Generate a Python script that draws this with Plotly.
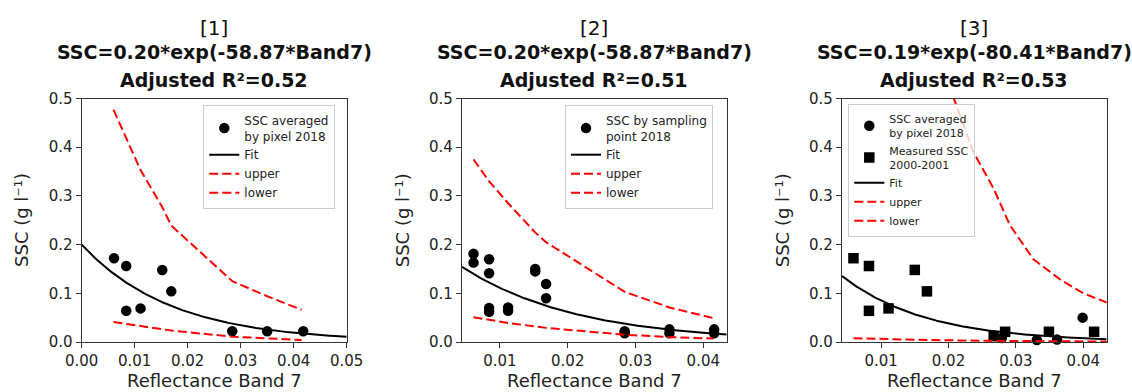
import numpy as np
import plotly.graph_objects as go

W, H = 1132, 392
FONT = "DejaVu Sans"
RED = "#ff0000"

# ---- fit coefficients (SSC = a * exp(b * Band7)) ----
fit_a = [0.20, 0.20, 0.19]
fit_b = [-58.87, -58.87, -80.41]
adj_r2 = ["0.52", "0.51", "0.53"]
panel_tags = ["[1]", "[2]", "[3]"]

# ---- panel 1: SSC averaged by pixel 2018 ----
p1_x = [0.0061, 0.0084, 0.0084, 0.0111, 0.0152, 0.0169, 0.0284, 0.0350, 0.0418]
p1_y = [0.172, 0.156, 0.064, 0.069, 0.148, 0.104, 0.022, 0.022, 0.022]
p1_band_x = [0.0060, 0.0084, 0.0111, 0.0152, 0.0169, 0.0284, 0.0350, 0.0415]
p1_upper = [0.477, 0.418, 0.353, 0.277, 0.239, 0.125, 0.094, 0.066]
p1_lower = [0.041, 0.037, 0.032, 0.026, 0.0235, 0.011, 0.007, 0.004]

# ---- panel 2: SSC by sampling point 2018 ----
p2_x = [0.0061, 0.0061, 0.0084, 0.0084, 0.0084, 0.0084, 0.0112, 0.0112, 0.0152,
        0.0152, 0.0168, 0.0168, 0.0284, 0.0284, 0.0350, 0.0350, 0.0416, 0.0416]
p2_y = [0.181, 0.163, 0.170, 0.141, 0.070, 0.062, 0.071, 0.064, 0.150,
        0.145, 0.119, 0.090, 0.022, 0.018, 0.026, 0.018, 0.026, 0.018]
p2_band_x = [0.0061, 0.0084, 0.0112, 0.0152, 0.0168, 0.0284, 0.0350, 0.0415]
p2_upper = [0.375, 0.330, 0.285, 0.225, 0.205, 0.103, 0.071, 0.049]
p2_lower = [0.051, 0.045, 0.039, 0.032, 0.029, 0.015, 0.010, 0.007]

# ---- panel 3: pixel averages 2018 + measured SSC 2000-2001 ----
p3_circ_x = [0.0279, 0.0331, 0.0361, 0.0399]
p3_circ_y = [0.008, 0.004, 0.005, 0.050]
p3_sq_x = [0.0059, 0.0082, 0.0082, 0.0111, 0.0150, 0.0168, 0.0267, 0.0284, 0.0349, 0.0416]
p3_sq_y = [0.172, 0.156, 0.064, 0.069, 0.148, 0.104, 0.012, 0.021, 0.021, 0.021]
p3_upper_x = [0.0200, 0.0237, 0.0267, 0.0291, 0.0326, 0.0366, 0.0400, 0.0435]
p3_upper = [0.53, 0.39, 0.315, 0.24, 0.170, 0.128, 0.100, 0.081]
p3_lower_x = [0.0059, 0.0111, 0.0168, 0.0284, 0.0350, 0.0435]
p3_lower = [0.0078, 0.0055, 0.0040, 0.0022, 0.0016, 0.0010]

# ---- axis settings ----
x_ranges = [[0.0, 0.05], [0.0044, 0.04345], [0.0042, 0.04347]]
x_ticks = [[0.00, 0.01, 0.02, 0.03, 0.04, 0.05], [0.01, 0.02, 0.03, 0.04], [0.01, 0.02, 0.03, 0.04]]
y_ticks = [0.0, 0.1, 0.2, 0.3, 0.4, 0.5]

# plot-area pixel boxes
px_left = [81.7, 462.0, 842.0]
px_right = [346.7, 726.7, 1106.7]
px_top, px_bottom = 98.5, 342.0

fig = go.Figure()

DASH = "9px,4px"


def add_panel(i, marker_sets):
    xa = "x" if i == 0 else f"x{i + 1}"
    ya = "y" if i == 0 else f"y{i + 1}"
    lg = "legend" if i == 0 else f"legend{i + 1}"
    for name, xs, ys, sym in marker_sets:
        fig.add_trace(go.Scatter(
            x=xs, y=ys, mode="markers", name=name, xaxis=xa, yaxis=ya, legend=lg,
            marker=dict(symbol=sym, size=10.5, color="black"), cliponaxis=False))
    fx = np.linspace(x_ranges[i][0], x_ranges[i][1], 200)
    fy = fit_a[i] * np.exp(fit_b[i] * fx)
    fig.add_trace(go.Scatter(x=fx, y=fy, mode="lines", name="Fit", xaxis=xa, yaxis=ya,
                             legend=lg, line=dict(color="black", width=2)))


def add_band(i, ux, uy, lx, ly):
    xa = "x" if i == 0 else f"x{i + 1}"
    ya = "y" if i == 0 else f"y{i + 1}"
    lg = "legend" if i == 0 else f"legend{i + 1}"
    fig.add_trace(go.Scatter(x=ux, y=uy, mode="lines", name="upper", xaxis=xa, yaxis=ya,
                             legend=lg, line=dict(color=RED, width=2, dash=DASH)))
    fig.add_trace(go.Scatter(x=lx, y=ly, mode="lines", name="lower", xaxis=xa, yaxis=ya,
                             legend=lg, line=dict(color=RED, width=2, dash=DASH)))


add_panel(0, [("SSC averaged<br>by pixel 2018", p1_x, p1_y, "circle")])
add_band(0, p1_band_x, p1_upper, p1_band_x, p1_lower)
add_panel(1, [("SSC by sampling<br>point 2018", p2_x, p2_y, "circle")])
add_band(1, p2_band_x, p2_upper, p2_band_x, p2_lower)
add_panel(2, [("SSC averaged<br>by pixel 2018", p3_circ_x, p3_circ_y, "circle"),
              ("Measured SSC<br>2000-2001", p3_sq_x, p3_sq_y, "square")])
add_band(2, p3_upper_x, p3_upper, p3_lower_x, p3_lower)

layout = dict(
    width=W, height=H, autosize=False,
    margin=dict(l=0, r=0, t=0, b=0),
    paper_bgcolor="white", plot_bgcolor="white",
    font=dict(family=FONT, color="#222222"),
    showlegend=True,
)

ydom = [(H - px_bottom) / H, (H - px_top) / H]
annotations = []
for i in range(3):
    sx = "" if i == 0 else str(i + 1)
    xdom = [px_left[i] / W, px_right[i] / W]
    common = dict(showline=True, linecolor="#333333", linewidth=1.2, mirror=True,
                  ticks="outside", ticklen=5, tickwidth=1.2, tickcolor="#333333",
                  showgrid=False, zeroline=False, automargin=False,
                  tickfont=dict(family=FONT, size=15, color="#222222"))
    layout["xaxis" + sx] = dict(domain=xdom, range=x_ranges[i], anchor="y" + sx,
                                tickvals=x_ticks[i], tickformat=".2f", **common)
    layout["yaxis" + sx] = dict(domain=ydom, range=[0, 0.5], anchor="x" + sx,
                                tickvals=y_ticks, tickformat=".1f", **common)
    cx = (px_left[i] + px_right[i]) / 2 / W
    bold = dict(family=FONT, size=19, color="#111111", weight="bold")
    annotations += [
        dict(text=panel_tags[i], x=cx, y=1 - 28 / H, xref="paper", yref="paper",
             xanchor="center", yanchor="middle", showarrow=False,
             font=dict(family=FONT, size=20, color="#111111")),
        dict(text=f"SSC={fit_a[i]:.2f}*exp({fit_b[i]:.2f}*Band7)", x=cx, y=1 - 52 / H,
             xref="paper", yref="paper", xanchor="center", yanchor="middle", showarrow=False,
             font=bold),
        dict(text=f"Adjusted R²={adj_r2[i]}", x=cx, y=1 - 80 / H,
             xref="paper", yref="paper", xanchor="center", yanchor="middle", showarrow=False,
             font=bold),
        dict(text="Reflectance Band 7", x=cx, y=1 - 380 / H, xref="paper", yref="paper",
             xanchor="center", yanchor="middle", showarrow=False,
             font=dict(family=FONT, size=18, color="#222222")),
        dict(text="SSC (g l⁻¹)", x=(px_left[i] - 60) / W,
             y=sum(ydom) / 2, xref="paper", yref="paper", textangle=-90,
             xanchor="center", yanchor="middle", showarrow=False,
             font=dict(family=FONT, size=18, color="#222222")),
    ]
layout["annotations"] = annotations

legend_pos = [(203.3, 105.0, 12), (565.0, 105.0, 12), (848.3, 104.0, 11)]
for i, (lx, ly, fs) in enumerate(legend_pos):
    key = "legend" if i == 0 else f"legend{i + 1}"
    layout[key] = dict(x=lx / W, y=1 - ly / H, xanchor="left", yanchor="top",
                       bgcolor="rgba(255,255,255,0.8)", bordercolor="#cccccc", borderwidth=1,
                       font=dict(family=FONT, size=fs, color="#222222"),
                       tracegroupgap=0, itemwidth=30)

fig.update_layout(**layout)
fig.write_html("out.html")
